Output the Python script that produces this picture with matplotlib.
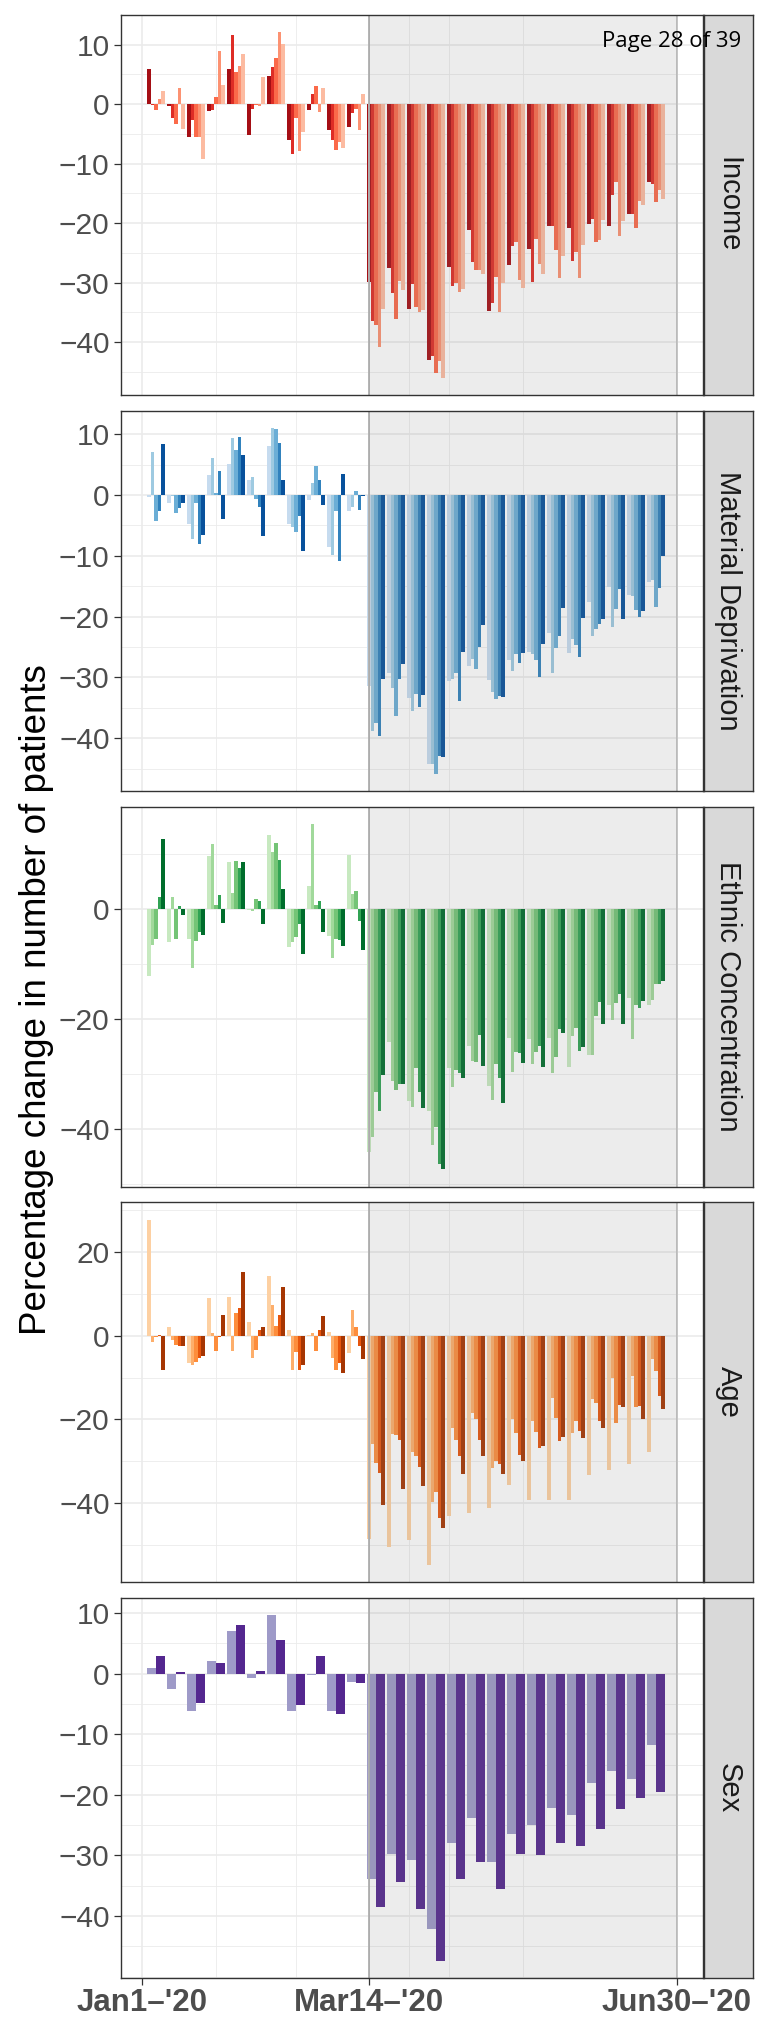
import matplotlib.pyplot as plt
import numpy as np

plt.rcParams['font.family'] = ['Liberation Sans', 'DejaVu Sans']

# week index 0..25 (weekly groups, Jan -> Jun 2020)
weeks = np.arange(26)

# x positions of axis breaks / reference lines (in week units)
x_breaks = [-0.715, 10.665, 26.035]
x_labels = ["Jan1\u2013'20", "Mar14\u2013'20", "Jun30\u2013'20"]
x_minor_grid = [3.0, 6.985, 12.665, 14.665, 18.365]

income = [
    [6.0, -0.2, -1.0, 0.8, 2.2], [-0.3, -2.3, -3.3, 2.8, -4.1], [-5.5, -2.7, -5.5, -5.5, -9.2],
    [-1.2, -0.9, 1.2, 8.9, 3.2], [6.0, 11.6, 5.4, 6.5, 8.5], [-5.1, -0.8, -0.2, -0.3, 4.5],
    [4.7, 6.2, 7.7, 12.1, 10.1], [-6.0, -8.3, -2.3, -7.8, -4.6], [-0.9, 1.8, 3.0, -1.3, 2.8],
    [-4.3, -6.0, -7.7, -6.3, -7.3], [-3.8, -1.5, -0.8, -4.3, 1.8],
    [-29.9, -36.5, -37.2, -40.8, -34.5], [-27.6, -31.8, -36.1, -29.8, -31.3],
    [-34.5, -30.3, -34.1, -35.0, -34.6], [-43.0, -42.3, -45.2, -43.2, -46.0],
    [-27.3, -30.6, -30.1, -31.5, -31.1], [-21.2, -26.5, -27.9, -27.9, -28.6],
    [-34.8, -33.5, -29.1, -35.0, -30.1], [-27.1, -23.9, -23.1, -29.6, -30.9],
    [-24.4, -29.9, -22.7, -26.9, -28.6], [-20.4, -20.4, -24.6, -29.3, -25.6],
    [-20.9, -26.3, -24.9, -29.3, -23.7], [-20.2, -19.3, -23.1, -22.9, -19.4],
    [-20.4, -15.2, -13.0, -22.2, -19.7], [-18.5, -18.4, -20.9, -16.2, -17.0],
    [-13.0, -13.5, -16.5, -14.4, -16.0],
]
matdep = [
    [-0.4, 7.1, -4.2, -2.7, 8.3], [-1.4, -0.2, -3.0, -2.2, -1.4], [-4.8, -7.3, -1.4, -8.1, -6.6],
    [3.3, 6.1, 0.4, 4.0, -4.0], [5.1, 9.4, 7.4, 9.6, 6.5], [2.5, 3.0, -0.7, -2.0, -6.8],
    [8.1, 11.0, 10.9, 8.6, 2.5], [-4.8, -5.3, -6.1, -3.5, -9.2], [-0.9, 1.9, 4.8, 2.4, -1.7],
    [-8.6, -9.9, -2.7, -10.9, 3.5], [-2.7, -1.9, 0.7, -2.4, -0.1],
    [-31.4, -38.8, -37.5, -39.6, -30.3], [-29.3, -31.7, -36.3, -30.3, -27.8],
    [-33.4, -35.5, -32.7, -34.8, -32.9], [-44.2, -44.2, -45.8, -42.9, -43.1],
    [-30.6, -30.3, -29.3, -33.9, -25.8], [-28.1, -27.0, -28.6, -25.0, -21.4],
    [-30.4, -32.4, -33.5, -33.0, -33.2], [-27.1, -28.9, -26.1, -27.6, -26.0],
    [-25.8, -26.1, -27.1, -29.9, -24.5], [-22.7, -29.3, -25.2, -23.2, -18.6],
    [-26.0, -23.7, -24.7, -26.6, -20.2], [-17.6, -23.2, -22.0, -21.2, -20.4],
    [-15.2, -21.7, -18.8, -15.5, -20.4], [-16.5, -16.6, -18.9, -20.1, -19.1],
    [-14.3, -14.0, -18.4, -15.3, -10.1],
]
ethnic = [
    [-12.2, -6.5, -5.4, 2.1, 12.8], [-6.0, 2.1, -5.4, 0.5, -1.1], [-5.4, -10.7, -5.8, -4.2, -4.7],
    [9.6, 11.9, 0.8, 2.5, -2.5], [8.5, 3.0, 8.8, 7.4, 8.5], [-0.2, -0.4, 1.8, 1.4, -2.7],
    [13.4, 10.3, 12.1, 9.0, 3.6], [-6.9, -6.0, -5.1, -2.7, -8.2], [4.1, 15.5, 0.8, 1.4, -4.2],
    [-4.9, -8.9, -5.4, -5.6, -6.7], [9.9, 2.7, 3.2, -2.2, -7.4],
    [-44.3, -41.6, -33.4, -36.8, -30.3], [-24.3, -31.4, -33.0, -31.8, -31.8],
    [-34.9, -36.0, -28.9, -33.4, -36.3], [-36.8, -43.0, -39.7, -46.5, -47.4],
    [-28.9, -32.5, -29.4, -29.8, -30.7], [-25.0, -27.6, -27.8, -23.0, -28.5],
    [-32.3, -34.7, -28.3, -30.7, -35.4], [-23.4, -29.6, -26.1, -26.3, -28.1],
    [-23.6, -28.3, -26.0, -25.0, -28.7], [-23.4, -29.9, -26.9, -21.8, -22.5],
    [-28.7, -23.2, -21.6, -25.8, -25.2], [-26.5, -26.5, -19.4, -16.9, -20.9],
    [-17.4, -20.3, -17.1, -15.4, -20.9], [-16.2, -23.6, -17.4, -18.1, -16.7],
    [-17.4, -16.5, -13.6, -13.6, -13.2],
]
age = [
    [27.8, -1.4, -0.4, 0.2, -8.1], [2.1, -1.0, -2.1, -2.4, -2.4], [-6.4, -6.9, -6.2, -5.2, -4.8],
    [9.0, 0.6, -3.6, -0.2, 4.9], [9.4, -3.6, 5.4, 6.6, 15.2], [3.3, -5.2, -3.3, 1.3, 2.1],
    [14.4, 7.3, 2.3, 4.9, 11.8], [1.3, -8.1, -3.8, -8.1, -7.1], [0.2, 0.6, -3.6, 1.3, 4.7],
    [0.9, -5.2, -8.3, -6.4, -9.0], [-4.0, 6.1, 2.1, -2.4, -5.5],
    [-48.6, -26.0, -30.5, -32.9, -40.5], [-50.6, -23.5, -23.7, -25.0, -36.6],
    [-48.9, -27.8, -28.8, -31.4, -35.9], [-54.9, -39.9, -37.3, -43.5, -46.1],
    [-43.1, -22.1, -24.9, -28.7, -33.0], [-42.5, -18.5, -19.9, -24.9, -28.7],
    [-41.3, -31.6, -29.9, -30.6, -33.0], [-35.6, -19.9, -23.3, -28.5, -29.9],
    [-39.2, -20.4, -23.0, -26.8, -26.3], [-39.2, -14.9, -19.7, -25.2, -24.2],
    [-39.4, -23.3, -20.4, -22.8, -24.4], [-33.3, -15.2, -16.1, -20.4, -22.1],
    [-32.1, -10.2, -20.9, -16.6, -17.1], [-30.6, -9.7, -17.1, -16.8, -19.9],
    [-27.8, -5.6, -8.5, -14.5, -17.5],
]
sex = [
    [0.9, 2.9], [-2.6, 0.3], [-6.2, -4.9], [2.1, 1.7], [7.0, 8.0], [-0.7, 0.4],
    [9.6, 5.5], [-6.1, -5.2], [-0.3, 2.9], [-6.2, -6.7], [-1.3, -1.6],
    [-33.9, -38.5], [-29.7, -34.3], [-30.8, -38.9], [-42.1, -47.4], [-28.0, -33.8],
    [-23.8, -31.1], [-31.0, -35.6], [-26.4, -29.8], [-24.9, -30.0], [-22.1, -27.9],
    [-23.3, -28.4], [-18.0, -25.7], [-16.1, -22.3], [-17.4, -20.5], [-11.8, -19.5],
]

panel_names = ['Income', 'Material Deprivation', 'Ethnic Concentration', 'Age', 'Sex']
panel_data = [income, matdep, ethnic, age, sex]
panel_colors = [
    ['#a50f15', '#de2d26', '#fb6a4a', '#fc9272', '#fcbba1'],
    ['#c6dbef', '#9ecae1', '#6baed6', '#3182bd', '#08519c'],
    ['#c7e9c0', '#a1d99b', '#74c476', '#31a354', '#006d2c'],
    ['#fdd0a2', '#fdae6b', '#fd8d3c', '#e6550d', '#a63603'],
    ['#9e9ac8', '#54278f'],
]
y_steps = [10, 10, 20, 20, 10]

W, H = 760, 2034
fig = plt.figure(figsize=(W / 100, H / 100), dpi=100)

left, right = 120.7, 702.7
top0, ph, gap = 15.0, 380.0, 15.8
strip_w = 49.5

for i, name in enumerate(panel_names):
    top = top0 + i * (ph + gap)
    ax = fig.add_axes([left / W, 1 - (top + ph) / H, (right - left) / W, ph / H])
    vals = np.array(panel_data[i])
    n = vals.shape[1]
    bw = 0.9 / n
    for k in range(n):
        ax.bar(weeks - 0.45 + bw * (k + 0.5), vals[:, k], width=bw,
               color=panel_colors[i][k], linewidth=0, zorder=2)

    lo, hi = vals.min(), vals.max()
    pad = (hi - lo) * 0.05
    ax.set_xlim(-1.765, 27.335)

    step = y_steps[i]
    major = np.arange(-60, 40, step)
    major = major[(major >= lo - pad * 0.5) & (major <= hi + pad)]
    ax.set_yticks(major)
    ax.set_yticks(np.arange(-60, 40, step / 2.0), minor=True)
    ax.set_ylim(lo - pad, hi + pad)
    ax.grid(axis='y', which='major', color='#EBEBEB', lw=1.2, zorder=0)
    ax.grid(axis='y', which='minor', color='#EBEBEB', lw=0.6, zorder=0)
    ax.axvline(x_breaks[0], color='#EBEBEB', lw=1.2, zorder=0)
    for xv in x_minor_grid:
        ax.axvline(xv, color='#EBEBEB', lw=0.6, zorder=0)

    ax.axvline(x_breaks[1], color='#B3B3B3', lw=1.4, zorder=3)
    ax.axvline(x_breaks[2], color='#C4C4C4', lw=1.4, zorder=3)
    ax.axvspan(x_breaks[1], x_breaks[2], color='grey', alpha=0.15, lw=0, zorder=4)

    ax.tick_params(axis='y', which='major', length=5, width=0.9, color='#333333',
                   labelsize=21.5, labelcolor='#4D4D4D', pad=3)
    ax.tick_params(axis='y', which='minor', length=0)
    ax.set_xticks(x_breaks)
    if i == len(panel_names) - 1:
        ax.set_xticklabels(x_labels, fontweight='bold')
        ax.tick_params(axis='x', length=5, width=0.9, color='#333333',
                       labelsize=22.5, labelcolor='#4D4D4D', pad=2)
    else:
        ax.set_xticklabels([])
        ax.tick_params(axis='x', length=0)
    for s in ax.spines.values():
        s.set_color('#333333')
        s.set_linewidth(1.0)
        s.set_zorder(6)

    sax = fig.add_axes([(right + 1.0) / W, 1 - (top + ph) / H, strip_w / W, ph / H])
    sax.set_facecolor('#D9D9D9')
    sax.set_xticks([])
    sax.set_yticks([])
    for s in sax.spines.values():
        s.set_color('#333333')
        s.set_linewidth(1.0)
    sax.text(0.5, 0.5, name, rotation=270, ha='center', va='center',
             fontsize=21, color='#1A1A1A', transform=sax.transAxes)

fig.text(37 / W, 1 - 1000 / H, 'Percentage change in number of patients',
         rotation=90, ha='center', va='center', fontsize=26.5, color='black')
fig.text(672 / W, 1 - 41 / H, 'Page 28 of 39', ha='center', va='center',
         fontsize=16, color='black', family=['Open Sans', 'DejaVu Sans'])

fig.savefig('out.png', dpi=100)
